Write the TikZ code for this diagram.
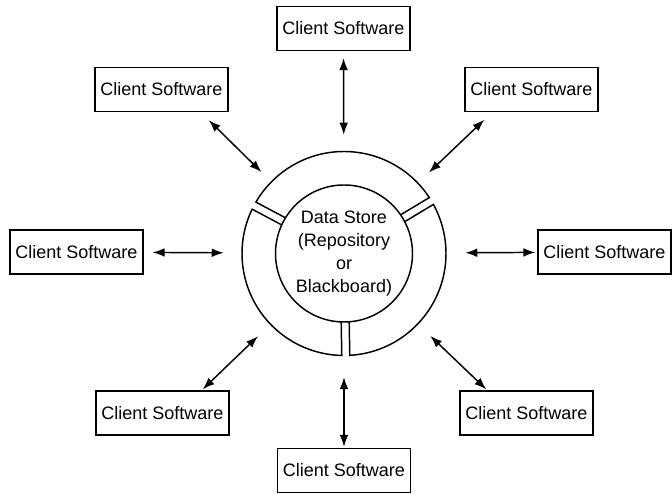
\documentclass[tikz,border=0pt]{standalone}
\usepackage{fontspec}
\setmainfont{Liberation Sans}
\usetikzlibrary{arrows.meta}
\begin{document}
\begin{tikzpicture}[x=0.75pt,y=0.75pt,
  font=\fontsize{13.5pt}{17.3pt}\selectfont,
  client/.style={draw,line width=0.9pt,minimum width=99.75pt,minimum height=33pt,inner sep=0pt},
  link/.style={line width=1.1pt,{Latex[length=9pt,width=6.5pt]}-{Latex[length=9pt,width=6.5pt]}}]
\useasboundingbox (0,0) rectangle (672,495);
% data store in the middle
\node[circle,draw,line width=1.1pt,minimum size=102.75pt,inner sep=0pt,align=center] (ds) at (344,241.5)
  {Data Store\\(Repository\\or\\Blackboard)};
\node[circle,minimum size=153pt,inner sep=0pt] (ring) at (ds) {};
\begin{scope}[shift={(ds.center)},line width=1.1pt]
\foreach \a/\b in {31/152, 152/271, 271/391}{
  \draw (\a+3.35:68.5) -- (\a+2.25:102) arc[start angle=\a+2.25,end angle=\b-2.25,radius=102]
    -- (\b-3.35:68.5);
}
\end{scope}
% clients
\node[client] (top) at (343.5,466.5) {Client Software};
\node[client] (ul) at (161.5,405.5) {Client Software};
\node[client] (ur) at (531.5,405.5) {Client Software};
\node[client] (l) at (76.5,243) {Client Software};
\node[client] (r) at (604.5,243) {Client Software};
\node[client] (ll) at (162.5,82) {Client Software};
\node[client] (lr) at (526.5,82) {Client Software};
\node[client] (bot) at (344,24.5) {Client Software};
\foreach \n/\s/\e in {top/5.25pt/12.4pt, ul.-30/8.6pt/10.2pt, ur.210/8.3pt/11.3pt,
  l/6.75pt/13.5pt, r/1.5pt/14.25pt, ll.30/1.1pt/12.75pt, lr.150/1.1pt/12.75pt, bot/0.75pt/16pt}{
  \draw[link,shorten <=\s,shorten >=\e] (\n) -- (ring);
}
\end{tikzpicture}
\end{document}
